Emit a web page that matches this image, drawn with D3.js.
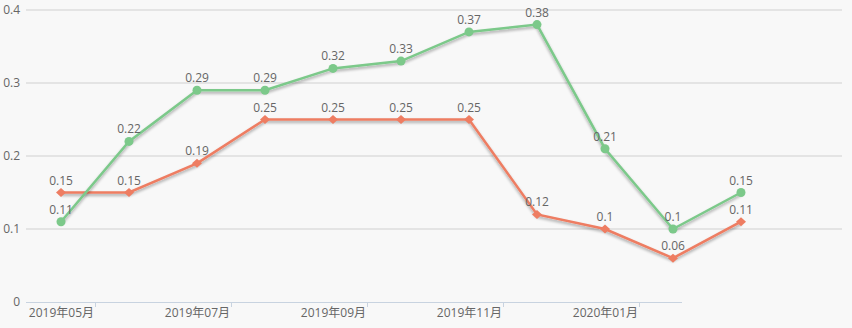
<!DOCTYPE html>
<html><head><meta charset="utf-8">
<script src="https://cdn.jsdelivr.net/npm/d3@7"></script>
<style>
html,body{margin:0;padding:0;background:#f8f8f8;}
svg{display:block;font-family:"Open Sans","Noto Sans CJK SC",sans-serif;}
</style></head><body>
<svg id="c" width="852" height="328"></svg>
<script>
const categories = ["2019年05月","2019年06月","2019年07月","2019年08月","2019年09月","2019年10月","2019年11月","2019年12月","2020年01月","2020年02月","2020年03月"];
const greenValues = [0.11,0.22,0.29,0.29,0.32,0.33,0.37,0.38,0.21,0.1,0.15];
const redValues = [0.15,0.15,0.19,0.25,0.25,0.25,0.25,0.12,0.1,0.06,0.11];
const yTicks = [0,0.1,0.2,0.3,0.4];
const xTickLabels = ["2019年05月","2019年07月","2019年09月","2019年11月","2020年01月"];

const svg = d3.select("#c");
const x = d3.scaleBand().domain(categories).range([27,775]);
const y = d3.scaleLinear().domain([0,0.4]).range([302,10]);

const defs = svg.append("defs");
const f = defs.append("filter").attr("id","sh").attr("x","-10%").attr("y","-20%").attr("width","120%").attr("height","140%");
f.append("feGaussianBlur").attr("in","SourceAlpha").attr("stdDeviation",1.5).attr("result","b");
f.append("feOffset").attr("dx",0).attr("dy",2).attr("result","o");
f.append("feComponentTransfer").append("feFuncA").attr("type","linear").attr("slope",0.35);
const m = f.append("feMerge"); m.append("feMergeNode"); m.append("feMergeNode").attr("in","SourceGraphic");

// gridlines
svg.append("g").selectAll("line").data(yTicks.filter(d=>d>0)).join("line")
  .attr("x1",26).attr("x2",842).attr("y1",d=>y(d)).attr("y2",d=>y(d))
  .attr("stroke","#d0d0d0").attr("stroke-width",1);
svg.append("g").selectAll("text").data(yTicks).join("text")
  .attr("x",20).attr("y",d=>y(d)+4).attr("text-anchor","end")
  .attr("font-size",12).attr("fill","#666").text(d=>d);

// x axis
svg.append("line").attr("x1",26).attr("x2",682).attr("y1",302.5).attr("y2",302.5).attr("stroke","#c8d3e0").attr("stroke-width",1);
const tickPos = xTickLabels.map(c=>x(c)+x.step());
svg.append("g").selectAll("line").data(tickPos).join("line")
  .attr("x1",d=>d+0.5).attr("x2",d=>d+0.5).attr("y1",302).attr("y2",307).attr("stroke","#c8d3e0");
svg.append("g").selectAll("text").data(xTickLabels).join("text")
  .attr("x",c=>x(c)+x.step()-1).attr("y",317).attr("text-anchor","end")
  .attr("font-size",12).attr("fill","#666").text(c=>c);

const cx = c=>x(c)+x.bandwidth()/2;
const line = d3.line().x(d=>cx(d.c)).y(d=>y(d.v));
function series(vals,color,shape){
  const data = categories.map((c,i)=>({c,v:vals[i]}));
  const g = svg.append("g");
  g.append("path").datum(data).attr("d",line).attr("fill","none").attr("stroke",color).attr("stroke-width",2.5).attr("filter","url(#sh)");
  if(shape==="circle"){
    g.selectAll("circle").data(data).join("circle").attr("cx",d=>cx(d.c)).attr("cy",d=>y(d.v)).attr("r",4.5).attr("fill",color);
  } else {
    g.selectAll("path.pt").data(data).join("path").attr("class","pt")
      .attr("d","M0,-4.5L5,0L0,4.5L-5,0Z").attr("transform",d=>`translate(${cx(d.c)},${y(d.v)})`).attr("fill",color);
  }
  g.selectAll("text").data(data).join("text").attr("x",d=>cx(d.c)).attr("y",d=>y(d.v)-8)
    .attr("text-anchor","middle").attr("font-size",12).attr("fill","#666").text(d=>d.v);
}
series(redValues,"#ee7d62","diamond");
series(greenValues,"#7cc98a","circle");
</script></body></html>
